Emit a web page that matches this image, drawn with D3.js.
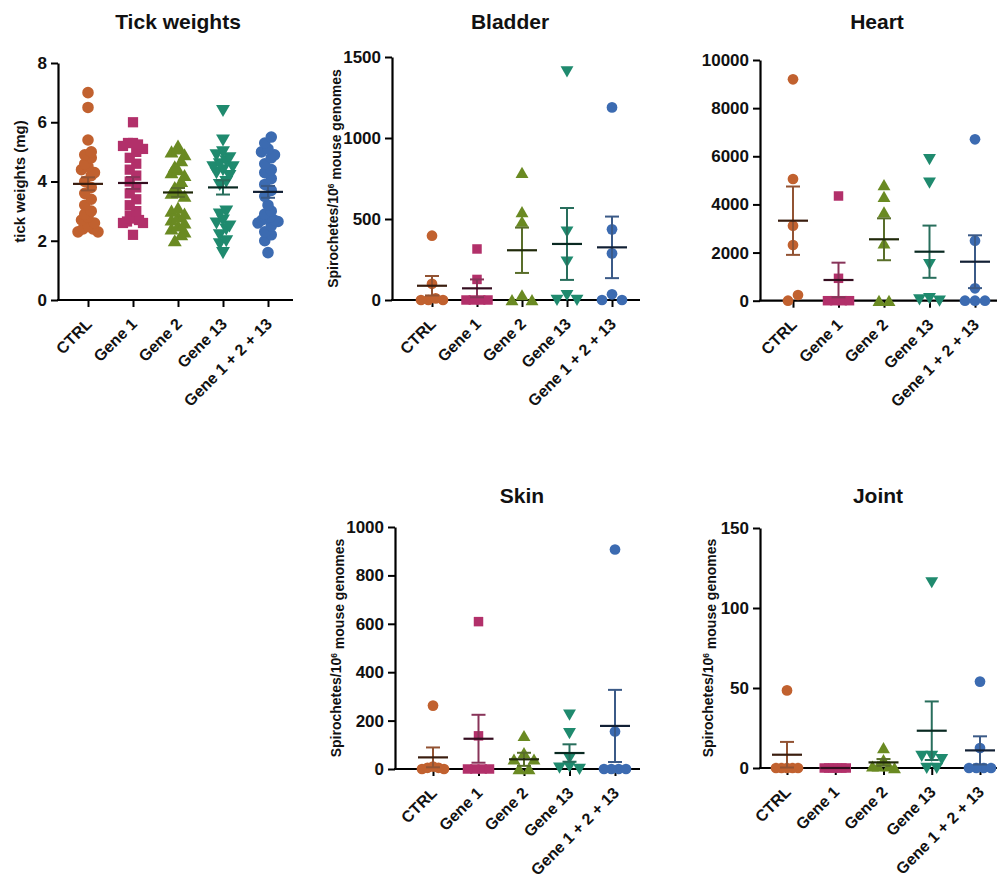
<!DOCTYPE html>
<html>
<head>
<meta charset="utf-8">
<script src="https://cdn.jsdelivr.net/npm/d3@7"></script>
<style>
    body { margin: 0; background: #fff; }
    svg text { font-family: "Liberation Sans", Arial, sans-serif; font-weight: bold; fill: #111; }
</style>
</head>
<body>
<svg id="chart" width="997" height="884"></svg>
<script>
const groups = ["CTRL", "Gene 1", "Gene 2", "Gene 13", "Gene 1 + 2 + 13"];
const groupColors = ["#c1612f", "#b2306a", "#6a8a22", "#1f8a6e", "#3c6bb1"];
const groupShapes = ["circle", "square", "triangle", "triangleDown", "circle"];

// tick weights (mg)
const tickWeights = [
    [7.0, 6.5, 5.4, 5.0, 4.9, 4.8, 4.6, 4.5, 4.4, 4.3, 4.2, 4.0, 3.8, 3.6, 3.4, 3.2, 3.0, 2.9, 2.8, 2.7, 2.6, 2.5, 2.4, 2.4, 2.3, 2.3],
    [6.0, 5.3, 5.3, 5.25, 5.2, 5.1, 5.0, 4.8, 4.6, 4.4, 4.2, 4.0, 3.8, 3.6, 3.4, 3.2, 3.0, 2.85, 2.8, 2.75, 2.7, 2.65, 2.6, 2.6, 2.2],
    [5.2, 5.1, 5.0, 4.9, 4.7, 4.5, 4.4, 4.3, 4.2, 4.0, 3.8, 3.7, 3.6, 3.5, 3.1, 3.0, 2.9, 2.8, 2.7, 2.6, 2.5, 2.4, 2.3, 2.2, 2.0],
    [6.4, 5.4, 5.0, 4.9, 4.8, 4.7, 4.6, 4.5, 4.5, 4.4, 4.3, 4.2, 4.0, 3.9, 3.0, 2.9, 2.7, 2.6, 2.5, 2.4, 2.2, 2.0, 1.9, 1.6],
    [5.5, 5.3, 5.1, 5.0, 4.9, 4.8, 4.6, 4.4, 4.3, 4.1, 3.9, 3.7, 3.5, 3.2, 3.0, 2.9, 2.8, 2.75, 2.7, 2.7, 2.65, 2.6, 2.5, 2.3, 2.2, 2.0, 1.6]
];
const tickMeans = [3.92, 3.95, 3.63, 3.8, 3.65];
const tickSem = [0.22, 0.2, 0.15, 0.24, 0.2];

// spirochetes / 10^6 mouse genomes
const bladder = [
    [397, 100, 10, 0, 0, 0],
    [315, 127, 0, 0, 0, 0],
    [786, 543, 484, 30, 0, 0],
    [1410, 422, 237, 30, 0, 0],
    [1189, 436, 288, 35, 0, 0]
];
const bladderMeans = [88, 72, 307, 346, 325];
const bladderSem = [60, 55, 140, 222, 190];

const heart = [
    [9198, 5056, 3116, 2314, 237, 0],
    [4350, 930, 0, 0, 0, 0],
    [4807, 4321, 3673, 2385, 0, 0],
    [5875, 4903, 1512, 100, 50, 0],
    [6705, 2493, 515, 0, 0, 0]
];
const heartMeans = [3324, 860, 2551, 2036, 1620];
const heartSem = [1420, 720, 870, 1085, 1097];

const skin = [
    [262, 10, 5, 5, 0, 0],
    [609, 137, 0, 0, 0, 0],
    [137, 66, 40, 40, 0, 0],
    [224, 148, 45, 10, 5, 0],
    [907, 155, 0, 0, 0, 0]
];
const skinMeans = [48, 125, 40, 66, 178];
const skinSem = [41, 99, 27, 36, 149];

const joint = [
    [48.5, 0, 0, 0, 0, 0],
    [0, 0, 0, 0, 0, 0],
    [12.5, 5, 1, 1, 1, 0],
    [116, 7.5, 5.5, 7.5, 0, 0],
    [54, 12.5, 0, 0, 0, 0]
];
const jointMeans = [8.3, 0, 3.5, 23.3, 11];
const jointSem = [8, 0, 2.1, 18.3, 8.8];

const yTicksTick = [0, 2, 4, 6, 8];
const yTicksBladder = [0, 500, 1000, 1500];
const yTicksHeart = [0, 2000, 4000, 6000, 8000, 10000];
const yTicksSkin = [0, 200, 400, 600, 800, 1000];
const yTicksJoint = [0, 50, 100, 150];

class DotPanel {
    constructor(_config) {
        this.config = _config;
        this.initVis();
    }

    initVis() {
        let vis = this;
        let c = vis.config;
        vis.chart = d3.select("#chart").append("g");

        vis.yScale = d3.scaleLinear()
            .domain([0, d3.max(c.yTicks)])
            .range([c.bottom, c.top]);

        vis.xScale = d3.scalePoint()
            .domain(groups)
            .range([c.xFirst, c.xLast]);

        // title
        vis.chart.append("text")
            .attr("x", c.titleX)
            .attr("y", c.titleY)
            .attr("text-anchor", "middle")
            .style("font-size", "21px")
            .text(c.title);

        // y axis label
        if (c.yLabel) {
            let lbl = vis.chart.append("text")
                .attr("transform", `translate(${c.yLabelX},${(c.top + c.bottom) / 2}) rotate(-90)`)
                .attr("text-anchor", "middle")
                .attr("dy", "0.35em")
                .style("font-size", c.yLabelSize + "px");
            if (c.yLabel == "spiro") {
                lbl.append("tspan").text("Spirochetes/10");
                lbl.append("tspan").attr("dy", "-0.5em").style("font-size", "0.6em").text("6");
                lbl.append("tspan").attr("dy", "0.5em").text(" mouse genomes");
            } else {
                lbl.text(c.yLabel);
            }
        }

        vis.axisY = vis.chart.append("g").attr("transform", `translate(${c.left},0)`);
        vis.axisX = vis.chart.append("g").attr("transform", `translate(0,${c.bottom})`);
        vis.marks = vis.chart.append("g");
        vis.bars = vis.chart.append("g");

        vis.render();
    }

    // spread points of similar value side by side, like a column scatter
    layout(values, cx) {
        let vis = this;
        let c = vis.config;
        let pts = values.map(v => ({ v: v, y: vis.yScale(v) }))
            .sort((a, b) => b.y - a.y);
        let clusters = [];
        pts.forEach(p => {
            let last = clusters[clusters.length - 1];
            if (last && last.y0 - p.y <= c.binH) last.items.push(p);
            else clusters.push({ y0: p.y, items: [p] });
        });
        clusters.forEach(cl => {
            let items = cl.items.slice().sort((a, b) => b.v - a.v);
            let n = items.length;
            let step = n > 1 ? Math.min(c.step, c.maxSpread / (n - 1)) : 0;
            // highest value in the middle, the rest alternate left/right
            let order = d3.range(n).map(i => i % 2 == 0 ? i / 2 : -(i + 1) / 2);
            let offs = order.map(o => o - d3.mean(order));
            items.forEach((p, i) => p.x = cx + offs[i] * step);
        });
        return pts;
    }

    render() {
        let vis = this;
        let c = vis.config;

        vis.axisY.call(d3.axisLeft(vis.yScale).tickValues(c.yTicks).tickFormat(d3.format("d"))
                .tickSize(7).tickPadding(4).tickSizeOuter(0))
            .call(g => g.select(".domain").attr("stroke-width", 2.2))
            .call(g => g.selectAll(".tick line").attr("stroke-width", 2))
            .call(g => g.selectAll("text").style("font-size", "17px").attr("font-family", null).attr("fill", "#111"));

        vis.axisX.call(d3.axisBottom(vis.xScale).tickSize(7).tickSizeOuter(0).tickFormat(""))
            .call(g => g.select(".domain").remove())
            .call(g => g.selectAll(".tick line").attr("stroke-width", 2));
        vis.axisX.append("line")
            .attr("x1", c.left - 1).attr("x2", c.right)
            .attr("stroke", "#000").attr("stroke-width", 2.2);

        vis.chart.selectAll(".xlab")
            .data(groups)
            .enter()
            .append("text")
            .attr("class", "xlab")
            .attr("text-anchor", "end")
            .attr("transform", d => `translate(${vis.xScale(d) + 5},${c.bottom + 25}) rotate(-45)`)
            .style("font-size", "16px")
            .text(d => d);

        groups.forEach((g, gi) => {
            let cx = vis.xScale(g);
            let col = groupColors[gi];
            let pts = vis.layout(c.values[gi], cx);
            let sym = groupShapes[gi];
            let symType = sym == "circle" ? d3.symbolCircle : sym == "square" ? d3.symbolSquare : d3.symbolTriangle;
            let size = sym == "circle" ? c.dot : sym == "square" ? c.dot : c.dot * 0.8;
            let shift = sym == "triangle" ? 1.5 : sym == "triangleDown" ? -1.5 : 0;

            vis.marks.selectAll(`.pt${gi}`)
                .data(pts)
                .enter()
                .append("path")
                .attr("class", `pt${gi}`)
                .attr("d", d3.symbol().type(symType).size(size))
                .attr("transform", d => `translate(${d.x},${d.y + shift})` + (sym == "triangleDown" ? " rotate(180)" : ""))
                .attr("fill", col);

            let mean = c.means[gi];
            let sem = c.sem[gi];
            let errCol = d3.interpolateRgb(col, "#3a3a3a")(0.35);
            let meanCol = d3.interpolateRgb(col, "#000")(0.7);
            let ym = vis.yScale(mean);
            let yTop = vis.yScale(mean + sem);
            let yBot = vis.yScale(Math.max(0, mean - sem));

            vis.bars.append("line")
                .attr("x1", cx).attr("x2", cx).attr("y1", yTop).attr("y2", yBot)
                .attr("stroke", errCol).attr("stroke-width", 2);
            [yTop, yBot].forEach(y => {
                vis.bars.append("line")
                    .attr("x1", cx - 7).attr("x2", cx + 7).attr("y1", y).attr("y2", y)
                    .attr("stroke", errCol).attr("stroke-width", 2);
            });
            vis.bars.append("line")
                .attr("x1", cx - 15).attr("x2", cx + 15).attr("y1", ym).attr("y2", ym)
                .attr("stroke", meanCol).attr("stroke-width", 2.2);
        });
    }
}

new DotPanel({
    title: "Tick weights", titleX: 178, titleY: 29,
    yLabel: "tick weights (mg)", yLabelX: 20, yLabelSize: 15,
    left: 58, right: 293, top: 63, bottom: 300, xFirst: 88, xLast: 268,
    yTicks: yTicksTick, values: tickWeights, means: tickMeans, sem: tickSem,
    binH: 7, step: 6.5, maxSpread: 20, dot: 105
});
new DotPanel({
    title: "Bladder", titleX: 510, titleY: 29,
    yLabel: "spiro", yLabelX: 333, yLabelSize: 14,
    left: 392, right: 640, top: 57, bottom: 300, xFirst: 432, xLast: 612,
    yTicks: yTicksBladder, values: bladder, means: bladderMeans, sem: bladderSem,
    binH: 8, step: 10, maxSpread: 22, dot: 90
});
new DotPanel({
    title: "Heart", titleX: 877, titleY: 29,
    yLabel: null,
    left: 760, right: 997, top: 60, bottom: 300.7, xFirst: 793, xLast: 975,
    yTicks: yTicksHeart, values: heart, means: heartMeans, sem: heartSem,
    binH: 8, step: 10, maxSpread: 22, dot: 90
});
new DotPanel({
    title: "Skin", titleX: 522, titleY: 503,
    yLabel: "spiro", yLabelX: 336, yLabelSize: 14,
    left: 395, right: 640, top: 527, bottom: 769, xFirst: 433, xLast: 615,
    yTicks: yTicksSkin, values: skin, means: skinMeans, sem: skinSem,
    binH: 8, step: 10, maxSpread: 22, dot: 90
});
new DotPanel({
    title: "Joint", titleX: 878, titleY: 503,
    yLabel: "spiro", yLabelX: 708, yLabelSize: 14,
    left: 760, right: 997, top: 528, bottom: 768, xFirst: 787, xLast: 980,
    yTicks: yTicksJoint, values: joint, means: jointMeans, sem: jointSem,
    binH: 8, step: 10, maxSpread: 22, dot: 90
});
</script>
</body>
</html>
